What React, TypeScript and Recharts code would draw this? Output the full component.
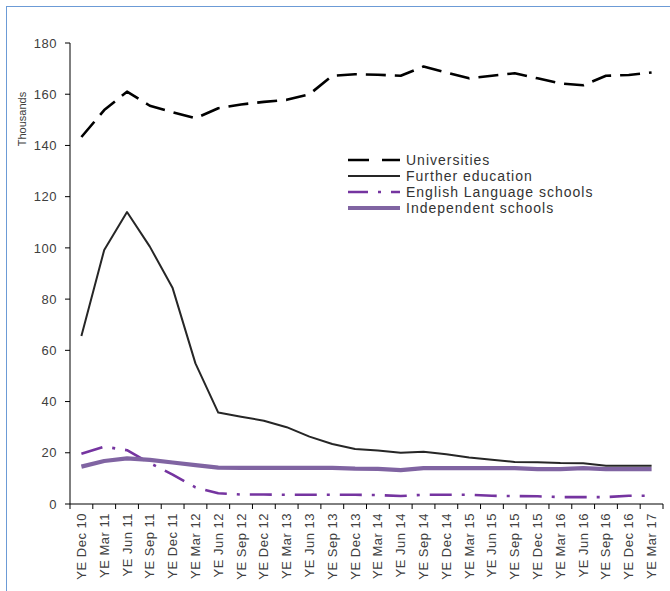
import React from "react";
import { LineChart, Line, XAxis, YAxis, Legend } from "recharts";

const categories = [
  "YE Dec 10", "YE Mar 11", "YE Jun 11", "YE Sep 11", "YE Dec 11", "YE Mar 12",
  "YE Jun 12", "YE Sep 12", "YE Dec 12", "YE Mar 13", "YE Jun 13", "YE Sep 13",
  "YE Dec 13", "YE Mar 14", "YE Jun 14", "YE Sep 14", "YE Dec 14", "YE Mar 15",
  "YE Jun 15", "YE Sep 15", "YE Dec 15", "YE Mar 16", "YE Jun 16", "YE Sep 16",
  "YE Dec 16", "YE Mar 17",
];

const universities = [
  143.3, 153.8, 161, 155.5, 153, 150.6, 154.5, 156, 157, 157.8, 160, 167.2, 167.8,
  167.6, 167.2, 170.8, 168.5, 166.2, 167.2, 168.2, 166.2, 164.2, 163.5, 167.2, 167.5, 168.5,
];
const furtherEducation = [
  65.6, 99.2, 114, 100.5, 84.3, 54.9, 35.7, 34.1, 32.5, 30, 26.3, 23.4, 21.5,
  20.9, 20, 20.4, 19.4, 18.2, 17.3, 16.4, 16.3, 16, 15.9, 14.9, 14.9, 14.9,
];
const englishLanguage = [
  19.6, 22.4, 21, 16, 11.5, 6.5, 4.2, 3.7, 3.7, 3.6, 3.6, 3.6, 3.6,
  3.5, 3.1, 3.6, 3.6, 3.6, 3.2, 3.1, 3.0, 2.7, 2.7, 2.7, 3.2, 3.2,
];
const independent = [
  14.6, 16.8, 17.8, 17.2, 16.2, 15.2, 14.2, 14.1, 14.1, 14.1, 14.1, 14.1, 13.8,
  13.7, 13.2, 14.0, 14.0, 14.0, 14.0, 14.0, 13.6, 13.6, 14.0, 13.6, 13.6, 13.6,
];

const yTicks = [0, 20, 40, 60, 80, 100, 120, 140, 160, 180];

const data = categories.map((name, i) => ({
  name,
  uni: universities[i],
  fe: furtherEducation[i],
  els: englishLanguage[i],
  ind: independent[i],
}));

const series = [
  { key: "uni", name: "Universities", color: "#000000", width: 2.6, dash: "20 9", legendDash: "21 13" },
  { key: "fe", name: "Further education", color: "#262626", width: 2, dash: undefined, legendDash: undefined },
  { key: "els", name: "English Language schools", color: "#7534A0", width: 2.6, dash: "22 10 3 10", legendDash: "20 10 3 10" },
  { key: "ind", name: "Independent schools", color: "#8064A2", width: 4.2, dash: undefined, legendDash: undefined },
];

const W = 670;
const H = 591;
const margin = { top: 43, right: 7, bottom: 0, left: 0 };
const yAxisW = 70;
const band = (W - margin.left - margin.right - yAxisW) / categories.length;
const font = '"Liberation Sans", Arial, sans-serif';

const XTick = (props: any) => {
  const { x, y, payload, index } = props;
  const last = index === categories.length - 1;
  return (
    <g>
      <line x1={x - band / 2} y1={y} x2={x - band / 2} y2={y + 5} stroke="#000" />
      {last && <line x1={x + band / 2} y1={y} x2={x + band / 2} y2={y + 5} stroke="#000" />}
      <text
        transform={`translate(${x},${y + 9}) rotate(-90)`}
        textAnchor="end"
        dy={4.5}
        fontSize={13}
        letterSpacing={0.5}
        fill="#404040"
      >
        {payload.value}
      </text>
    </g>
  );
};

const LegendBox = () => (
  <svg width={270} height={66}>
    {series.map((s, i) => (
      <g key={s.key}>
        <line
          x1={0}
          x2={52}
          y1={8 + i * 16}
          y2={8 + i * 16}
          stroke={s.color}
          strokeWidth={s.width}
          strokeDasharray={s.legendDash}
        />
        <text x={58} y={8 + i * 16} dy="0.35em" fontSize={14} letterSpacing={1} fill="#333">
          {s.name}
        </text>
      </g>
    ))}
  </svg>
);

export default function App() {
  return (
    <div
      style={{
        position: "absolute",
        left: 0,
        top: 0,
        width: W,
        height: H,
        overflow: "hidden",
        background: "#fff",
        fontFamily: font,
      }}
    >
      <div
        style={{
          position: "absolute",
          left: 6,
          top: 6,
          width: 720,
          height: 720,
          borderLeft: "1.5px solid #6C9BD6",
          borderTop: "1.5px solid #6C9BD6",
        }}
      />
      <div
        style={{
          position: "absolute",
          left: 22,
          top: 119,
          transform: "translate(-50%, -50%) rotate(-90deg)",
          fontSize: 11,
          color: "#404040",
          whiteSpace: "nowrap",
        }}
      >
        Thousands
      </div>
      <LineChart width={W} height={H} data={data} margin={margin} style={{ position: "absolute", left: 0, top: 0 }}>
        <XAxis
          dataKey="name"
          interval={0}
          padding={{ left: band / 2, right: band / 2 }}
          tickSize={0}
          tickMargin={0}
          tickLine={false}
          axisLine={{ stroke: "#000" }}
          tick={<XTick />}
          height={H - 504}
        />
        <YAxis
          width={yAxisW}
          domain={[0, 180]}
          ticks={yTicks}
          interval={0}
          tickSize={5}
          tickMargin={8}
          axisLine={{ stroke: "#000" }}
          tickLine={{ stroke: "#000" }}
          tick={{ fontSize: 13, fill: "#404040", letterSpacing: 0.5 }}
        />
        <Legend
          layout="vertical"
          align="center"
          verticalAlign="middle"
          content={<LegendBox />}
          wrapperStyle={{ left: 348, top: 152, width: 270, height: 66 }}
        />
        {series.map((s) => (
          <Line
            key={s.key}
            dataKey={s.key}
            name={s.name}
            type="linear"
            stroke={s.color}
            strokeWidth={s.width}
            strokeDasharray={s.dash}
            strokeLinejoin="round"
            dot={false}
            activeDot={false}
            isAnimationActive={false}
          />
        ))}
      </LineChart>
    </div>
  );
}
